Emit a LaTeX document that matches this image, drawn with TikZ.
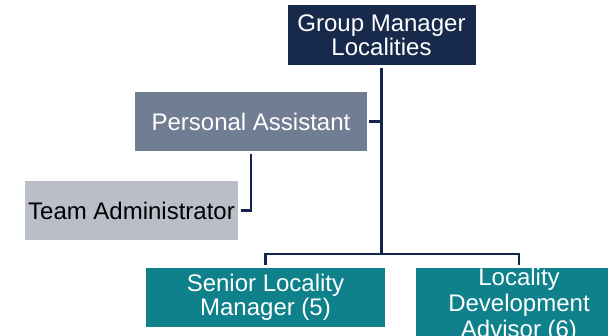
\documentclass[tikz,border=0pt]{standalone}
\usepackage{fontspec}
\setmainfont{Liberation Sans}
\definecolor{gmcol}{HTML}{172A4C}
\definecolor{pacol}{HTML}{717D93}
\definecolor{tacol}{HTML}{B9BEC9}
\definecolor{tealcol}{HTML}{0F818B}
\definecolor{linecol}{HTML}{14254A}
\tikzset{
  orgbox/.style={rectangle, inner sep=0pt, align=center,
    font=\fontsize{24pt}{24pt}\selectfont, text=white},
  conn/.style={draw=linecol, line width=2.2pt},
}
\begin{document}
\begin{tikzpicture}[x=1pt,y=-1pt]
\useasboundingbox (0,0) rectangle (608,335);
\clip (0,0) rectangle (608,335);
\node[orgbox, fill=gmcol, minimum width=188pt, minimum height=60pt] (gm) at (381.5,35) {Group Manager\\Localities};
\node[orgbox, fill=pacol, minimum width=232pt, minimum height=59pt] (pa) at (251,121.5) {Personal Assistant};
\node[orgbox, fill=tacol, text=black, minimum width=213pt, minimum height=59pt] (ta) at (131.5,210.5) {Team Administrator};
\node[orgbox, fill=tealcol, minimum width=239pt, minimum height=59pt] (slm) at (265.5,297.5) {Senior Locality\\Manager (5)};
\node[orgbox, fill=tealcol, minimum width=206pt, minimum height=74pt,
  font=\fontsize{24pt}{26pt}\selectfont] (lda) at (519,305) {Locality\\Development\\Advisor (6)};
\coordinate (bus) at (381.5,254);
\draw[conn] ([yshift=-3pt]gm.south) -- (bus);
\draw[conn] ([yshift=3pt]slm.north) |- (bus) -| ([yshift=3pt]lda.north);
\draw[conn] ([xshift=2pt]pa.east) -- (pa.east -| bus);
\draw[conn] ([yshift=-3pt]pa.south) |- ([xshift=3pt]ta.east);
\end{tikzpicture}
\end{document}
